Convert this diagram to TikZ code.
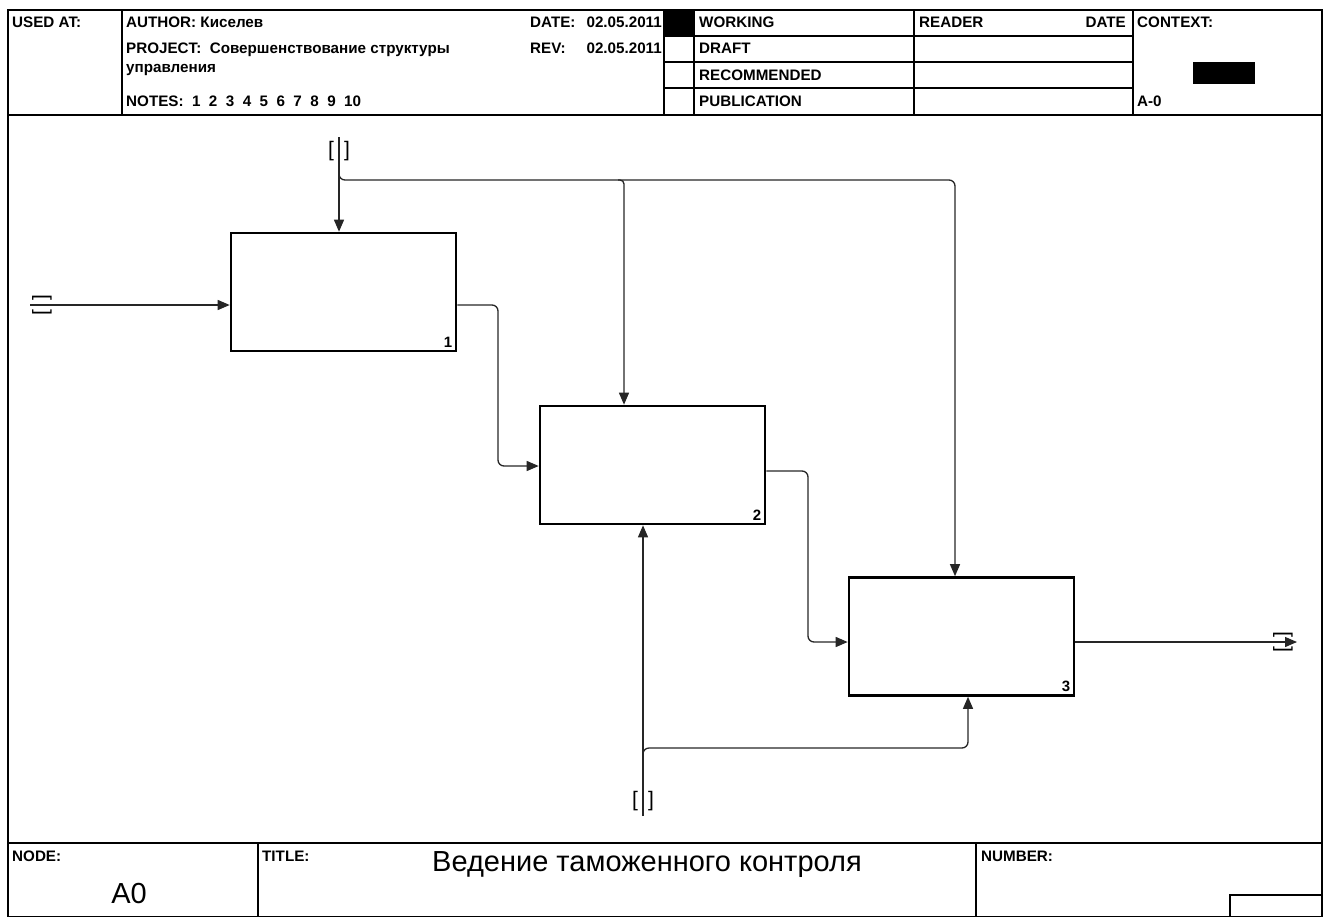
\documentclass[tikz,border=0pt]{standalone}
\usepackage{fontspec}
\setmainfont{Liberation Sans}
\usetikzlibrary{arrows.meta}

\begin{document}
\begin{tikzpicture}[
        x=1pt, y=-1pt,
        frame/.style={draw=black, line width=1.4pt},
        grid/.style={draw=black, line width=1.1pt},
        hdr/.style={anchor=base west, inner sep=0pt,
                    font=\fontsize{15.2}{17}\selectfont\bfseries},
        activity/.style={rectangle, draw, line width=2.6pt, inner sep=0pt,
                         minimum width=225pt, minimum height=118pt},
        boxnum/.style={anchor=base east, inner sep=0pt,
                       font=\fontsize{15}{17}\selectfont\bfseries},
        tunnel/.style={inner sep=0pt, font=\fontsize{21}{21}\selectfont},
        flow/.style={draw=black!85, line width=1.3pt,
                     -{Triangle[length=12pt,width=10pt]}},
        bigtext/.style={anchor=base, inner sep=0pt,
                        font=\fontsize{29}{31}\selectfont}
    ]
    \useasboundingbox (0,0) rectangle (1328,916);

    %% FRAME: header and footer
    \draw[frame] (8,10) rectangle (1322,917);
    \draw[frame] (8,115) -- (1322,115);
    \draw[grid] (122,10) -- (122,115);
    \draw[grid] (664,10) -- (664,115);
    \draw[grid] (694,10) -- (694,115);
    \draw[grid] (914,10) -- (914,115);
    \draw[grid] (1133,10) -- (1133,115);
    \draw[grid] (664,36) -- (1133,36);
    \draw[grid] (664,62) -- (1133,62);
    \draw[grid] (664,88) -- (1133,88);
    \fill[black] (664,10) rectangle (694,36);
    \fill[black] (1193,62) rectangle (1255,84);

    \draw[frame] (8,843) -- (1322,843);
    \draw[grid] (258,843) -- (258,917);
    \draw[grid] (976,843) -- (976,917);
    \draw[grid] (1230,917) |- (1322,895);

    \node[hdr] (usedat)  at (12,27)   {USED AT:};
    \node[hdr] (author)  at (126,27)  {AUTHOR:\ Киселев};
    \node[hdr] (project) at (126,53)  {PROJECT:\ \ Совершенствование структуры};
    \node[hdr] (project2) at (126,72) {управления};
    \node[hdr] (notes)   at (126,106) {NOTES:\ \ 1\ \ 2\ \ 3\ \ 4\ \ 5\ \ 6\ \ 7\ \ 8\ \ 9\ \ 10};
    \node[hdr] (date)    at (530,27)  {DATE:};
    \node[hdr, anchor=base east] (dateval) at (662,27) {02.05.2011};
    \node[hdr] (rev)     at (530,53)  {REV:};
    \node[hdr, anchor=base east] (revval) at (662,53) {02.05.2011};
    \node[hdr] (working) at (699,27)  {WORKING};
    \node[hdr] (draft)   at (699,53)  {DRAFT};
    \node[hdr] (recomm)  at (699,80)  {RECOMMENDED};
    \node[hdr] (publ)    at (699,106) {PUBLICATION};
    \node[hdr] (reader)  at (919,27)  {READER};
    \node[hdr, anchor=base east] (rdate) at (1126,27) {DATE};
    \node[hdr] (context) at (1137,27) {CONTEXT:};
    \node[hdr] (ctxnode) at (1137,106) {A-0};

    \node[hdr] (nodelbl)  at (12,861)  {NODE:};
    \node[hdr] (titlelbl) at (262,861) {TITLE:};
    \node[hdr] (numlbl)   at (981,861) {NUMBER:};
    \node[bigtext] (title)  at (647,871) {Ведение таможенного контроля};
    \node[bigtext] (nodeid) at (129,903) {A0};

    %% ACTIVITIES
    \node[activity] (b1) at (343.5,292) {};
    \node[activity] (b2) at (652.5,465) {};
    \node[activity] (b3) at (961.5,636.5) {};
    \node[boxnum] (n1) at ([xshift=-5pt,yshift=5pt]b1.south east) {1};
    \node[boxnum] (n2) at ([xshift=-5pt,yshift=5pt]b2.south east) {2};
    \node[boxnum] (n3) at ([xshift=-5pt,yshift=5pt]b3.south east) {3};

    %% TUNNELS and end points
    \coordinate (inp)  at (30,305);
    \coordinate (ctl)  at (339,137);
    \coordinate (mech) at (643,816);
    \coordinate (outp) at (1297,642);
    \node[tunnel, rotate=90] (tin)  at (42,305)   {[\hspace{10pt}]};
    \node[tunnel] (tctl) at (339,151)  {[\hspace{10pt}]};
    \node[tunnel] (tmec) at (643,801)  {[\hspace{10pt}]};
    \node[tunnel, rotate=90] (tout) at (1283,642) {[\hspace{10pt}]};

    %% INPUT / OUTPUT
    \draw[flow] (inp) -- (inp -| b1.west);
    \draw[flow] (outp -| b3.east) -- (outp);

    \coordinate (o1) at (498,305);
    \coordinate (i2) at (498,466);
    \draw[flow, rounded corners=6pt] (o1 -| b1.east) -- (o1) -- (i2) -- (i2 -| b2.west);
    \coordinate (o2) at (808,471);
    \coordinate (i3) at (808,642);
    \draw[flow, rounded corners=6pt] (o2 -| b2.east) -- (o2) -- (i3) -- (i3 -| b3.west);

    %% CONTROL
    \coordinate (cb0) at (339,170);
    \coordinate (cb2) at (624,180);
    \coordinate (cb3) at (955,180);
    \draw[flow] (ctl) -- (ctl |- b1.north);
    \draw[flow, rounded corners=6pt] (cb0) |- (cb3) -- (cb3 |- b3.north);
    \draw[flow, rounded corners=4pt] ([xshift=-6pt]cb2) -| (cb2 |- b2.north);

    %% MECHANISM
    \coordinate (mb0) at (643,758);
    \coordinate (mb3) at (968,748);
    \draw[flow] (mech) -- (mech |- b2.south);
    \draw[flow, rounded corners=6pt] (mb0) |- (mb3) -- (mb3 |- b3.south);

\end{tikzpicture}
\end{document}
